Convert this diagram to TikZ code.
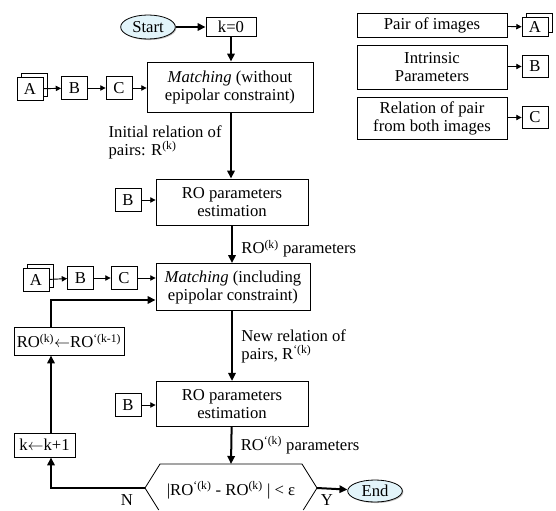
\documentclass[tikz,border=0pt]{standalone}
\usepackage{fontspec}
\setmainfont{Liberation Serif}
\usepackage{tikz}
\usetikzlibrary{arrows.meta,shapes.geometric,shadows}
\definecolor{termfill}{RGB}{226,244,250}
\tikzset{
  box/.style={draw, line width=0.6pt, align=center, inner sep=0pt},
  tag/.style={draw, line width=0.6pt, fill=white, inner sep=0pt, minimum width=19.5pt, minimum height=17pt},
  term/.style={ellipse, draw, line width=0.6pt, fill=termfill, inner sep=0pt, minimum width=41pt, minimum height=18pt, drop shadow={shadow xshift=0.8pt, shadow yshift=-0.8pt, opacity=0.5}},
  flow/.style={-{Triangle[length=6pt,width=5.5pt]}, line width=1.5pt},
  feed/.style={-{Triangle[length=4pt,width=4pt]}, line width=0.7pt},
}
\begin{document}
\begin{tikzpicture}[x=0.75pt, y=-0.75pt, font=\fontsize{12.5pt}{13.5pt}\selectfont]
\useasboundingbox (0,0) rectangle (556,510);
% main column
\node[term] (start) at (148,27) {Start};
\node[box, minimum width=37.5pt, minimum height=14.5pt] (kzero) at (231,27) {k=0};
\node[box, minimum width=124.5pt, minimum height=37.5pt] (match1) at (230,87) {\textit{Matching} (without\\epipolar constraint)};
\node[box, minimum width=114pt, minimum height=34.5pt] (ro1) at (232,202) {RO parameters\\estimation};
\node[box, minimum width=115.5pt, minimum height=35.25pt] (match2) at (233,287) {\textit{Matching} (including\\epipolar constraint)};
\node[box, minimum width=114pt, minimum height=34pt] (ro2) at (232,404) {RO parameters\\estimation};
\node (dec) at (231,490) {|RO\textsuperscript{`(k)} - RO\textsuperscript{(k)} | < ε};
\coordinate (decT) at (231,464);
\coordinate (decL) at (145,488);
\coordinate (decR) at (317,488);
\node[term, minimum height=16.5pt] (end) at (375,491) {End};
% feedback loop
\node[box, minimum width=82.5pt, minimum height=21pt] (roupd) at (69,341) {RO\textsuperscript{(k)}$\leftarrow$RO\textsuperscript{`(k-1)}};
\node[box, minimum width=45.75pt, minimum height=18pt] (kinc) at (44.5,445) {k$\leftarrow$k+1};
\coordinate (loop) at (51,300);
% inputs
\node[tag] (a1back) at (34,85) {};
\node[tag] (a1) at (30,89) {A};
\node[tag] (b1) at (74.5,88) {B};
\node[tag] (c1) at (119,88) {C};
\node[tag] (b2) at (128,200) {B};
\node[tag] (a2back) at (40,276) {};
\node[tag] (a2) at (36,280) {A};
\node[tag] (b2m) at (80.5,278) {B};
\node[tag] (c2) at (124,278) {C};
\node[tag] (b3) at (128,405) {B};
% legend
\node[box, minimum width=112.5pt, minimum height=18pt] (lpair) at (432,25) {Pair of images};
\node[box, minimum width=112.5pt, minimum height=33pt] (lintr) at (432,67) {Intrinsic\\Parameters};
\node[box, minimum width=112.5pt, minimum height=31.5pt] (lrel) at (432,118) {Relation of pair\\from both images};
\node[tag, minimum height=14pt] (laback) at (539,23) {};
\node[tag, minimum height=14pt] (la) at (535,27) {A};
\node[tag] (lb) at (535,66.5) {B};
\node[tag] (lc) at (535,117.5) {C};

\draw[line width=0.6pt] (158.75,510) -- (decL) -- (160,464) -- (302,464) -- (decR) -- (303.25,510);

\draw[flow] (start) -- (kzero);
\draw[flow] (kzero) -- (kzero |- match1.north);
\draw[flow] (match1.south -| kzero) -- (ro1.north -| kzero)
  node[pos=0.45, left=3pt, align=left] {Initial relation of\\pairs: R\textsuperscript{(k)}};
\draw[flow] (ro1) -- (ro1 |- match2.north)
  node[pos=0.62, right=3pt] {RO\textsuperscript{(k)} parameters};
\draw[flow] (match2.south -| ro1) -- (ro2.north)
  node[midway, right=3pt, align=left] {New relation of\\pairs, R\textsuperscript{`(k)}};
\draw[flow] (ro2) -- (decT)
  node[midway, right=3pt] {RO\textsuperscript{`(k)} parameters};
\draw[flow] (decR) -- (end);
\draw[flow] (decL) -| (kinc.south -| loop);
\draw[flow] (kinc.north -| loop) -- (roupd.south -| loop);
\draw[flow] (roupd.north -| loop) |- (match2.west |- loop);
\node[inner sep=0pt] (lbln) at (127,500) {N};
\node[inner sep=0pt] (lbly) at (327,500) {Y};

\draw[feed] (a1) -- (b1);
\draw[feed] (b1) -- (c1);
\draw[feed] (c1) -- (c1 -| match1.west);
\draw[feed] (b2) -- (b2 -| ro1.west);
\draw[feed] (a2) -- (b2m);
\draw[feed] (b2m) -- (c2);
\draw[feed] (c2) -- (c2 -| match2.west);
\draw[feed] (b3) -- (b3 -| ro2.west);
\draw[feed] (lpair) -- (la);
\draw[feed] (lintr.east |- lb) -- (lb);
\draw[feed] (lrel.east |- lc) -- (lc);
\end{tikzpicture}
\end{document}
